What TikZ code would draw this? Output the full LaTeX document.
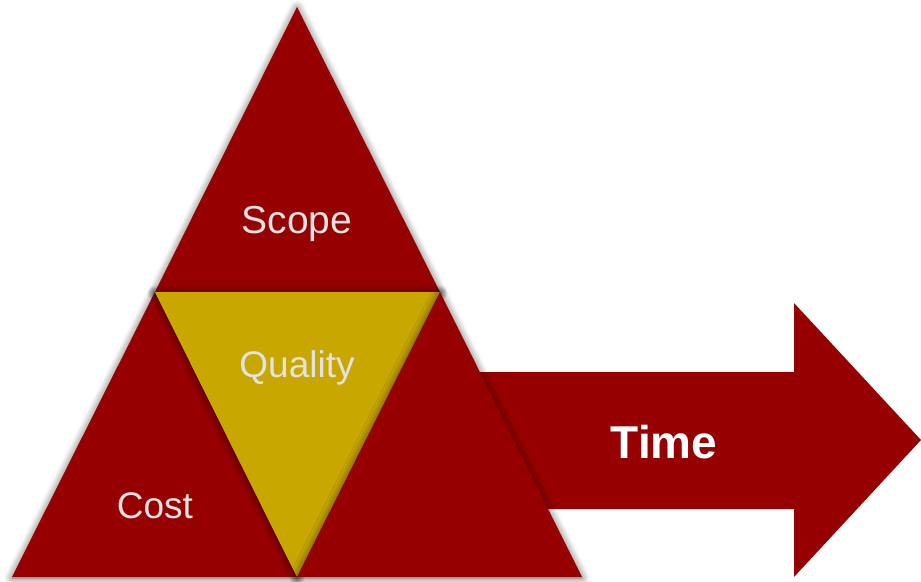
\documentclass[tikz,border=0pt]{standalone}
\usepackage{fontspec}
\setmainfont{Liberation Sans}
\usetikzlibrary{shadows.blur}
\definecolor{tred}{HTML}{960000}
\definecolor{tyellow}{HTML}{C8A800}
\definecolor{tlabel}{HTML}{E2E2E2}
\tikzset{
  tri/.style={fill=tred, blur shadow={shadow xshift=0pt, shadow yshift=-1pt, shadow blur radius=8pt, shadow blur steps=10, shadow opacity=60}},
  yel/.style={fill=tyellow, blur shadow={shadow xshift=0pt, shadow yshift=-1pt, shadow blur radius=8pt, shadow blur steps=10, shadow opacity=60}},
  lbl/.style={text=tlabel, font=\fontsize{37}{40}\selectfont, anchor=base, inner sep=0pt},
  timelbl/.style={text=white, font=\bfseries\fontsize{46}{50}\selectfont, anchor=base, inner sep=0pt}
}
\begin{document}
\begin{tikzpicture}[x=1pt,y=-1pt]
\useasboundingbox (0,0) rectangle (921,581);
% vertices
\coordinate (apex) at (297,7);
\coordinate (ml) at (155,292);
\coordinate (mr) at (440,292);
\coordinate (bl) at (12,577);
\coordinate (bm) at (297,577);
\coordinate (br) at (582,577);
% arrow
\fill[tred] (470,372) -- (794,372) -- (794,303) -- (921,440) -- (794,577) -- (794,509) -- (470,509) -- cycle;
% triangles
\path[tri] (ml) -- (bl) -- (bm) -- cycle;
\path[tri] (apex) -- (ml) -- (mr) -- cycle;
\path[yel] (ml) -- (mr) -- (bm) -- cycle;
\path[tri] (mr) -- (bm) -- (br) -- cycle;
% labels
\node[lbl, font=\fontsize{39}{42}\selectfont] (scope) at (297,233) {Scope};
\node[lbl] (quality) at (297,377) {Quality};
\node[lbl] (cost) at (155,518) {Cost};
\node[timelbl] (time) at (664,458) {Time};
\end{tikzpicture}
\end{document}
